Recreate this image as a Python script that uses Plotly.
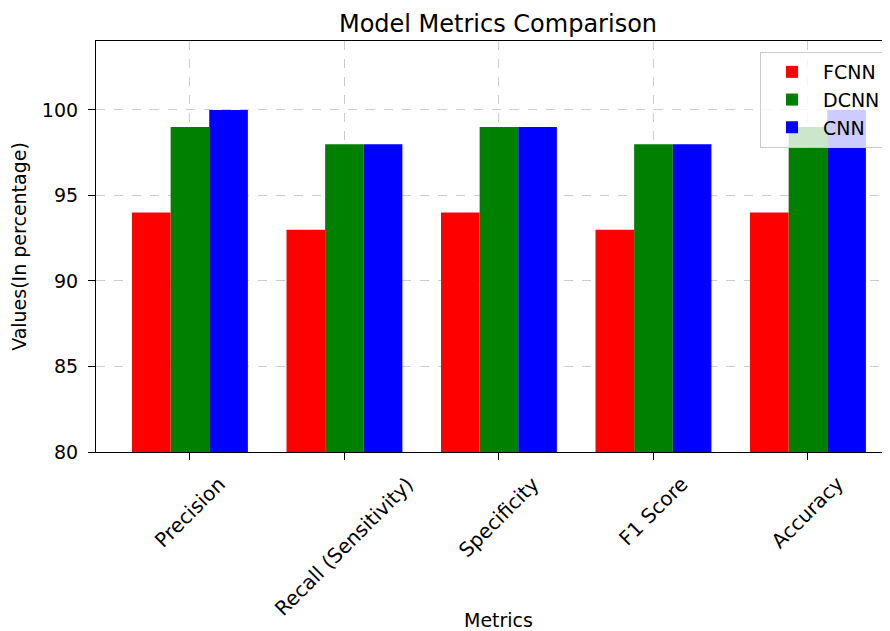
import plotly.graph_objects as go

categories = ["Precision", "Recall (Sensitivity)", "Specificity", "F1 Score", "Accuracy"]
fcnn = [94, 93, 94, 93, 94]
dcnn = [99, 98, 99, 98, 99]
cnn = [100, 98, 99, 98, 100]
series_names = ["FCNN", "DCNN", "CNN"]
series_colors = ["#ff0000", "#008000", "#0000ff"]
y_ticks = [80, 85, 90, 95, 100]

FONT = "DejaVu Sans"
OFF = 8  # page body margin offset
W, H = 890 - OFF, 631 - OFF

fig = go.Figure()
for name, vals, col in zip(series_names, [fcnn, dcnn, cnn], series_colors):
    fig.add_trace(go.Bar(x=categories, y=vals, name=name, marker_color=col,
                         marker_line_width=0))

fig.update_layout(
    width=W, height=H,
    margin=dict(l=96 - OFF, r=0, t=41 - OFF, b=631 - 452),
    paper_bgcolor="white", plot_bgcolor="white",
    barmode="group", bargap=0.25, bargroupgap=0,
    font=dict(family=FONT, size=19, color="black"),
    title=dict(text="Model Metrics Comparison", font=dict(size=24, family=FONT, color="black"),
               x=(498 - OFF) / W, xanchor="center", xref="container",
               y=1 - (24 - OFF) / H, yanchor="middle", yref="container"),
    legend=dict(x=(760 - 96) / 794, xanchor="left", y=1 - 11 / 411, yanchor="top",
                bgcolor="rgba(255,255,255,0.8)", bordercolor="#cccccc", borderwidth=1,
                font=dict(size=19, family=FONT, color="black"), itemwidth=52,
                entrywidth=140),
    showlegend=True,
)

fig.update_xaxes(
    range=[-0.608, 4.531], showline=True, linecolor="black", linewidth=1.2, mirror=True,
    ticks="outside", ticklen=7, tickcolor="black", showticklabels=False,
    showgrid=True, gridcolor="#cccccc", griddash="dash", gridwidth=1,
    zeroline=False,
)
fig.update_yaxes(
    range=[80, 104.03], tickvals=y_ticks, showline=True, linecolor="black", linewidth=1.2,
    mirror=False, ticks="outside", ticklen=7, tickcolor="black",
    tickfont=dict(size=19, family=FONT, color="black"), ticklabelstandoff=6,
    showgrid=True, gridcolor="#cccccc", griddash="dash", gridwidth=1, zeroline=False,
    title=dict(text="Values(In percentage)", font=dict(size=19, family=FONT, color="black"),
               standoff=10),
)

annotations = []
for c in categories:
    annotations.append(dict(x=c, xref="x", y=0, yref="paper", yshift=-17,
                            text=c, showarrow=False, textangle=-45,
                            xanchor="center", yanchor="top",
                            font=dict(size=20, family=FONT, color="black")))
annotations.append(dict(x=categories[2], xref="x", y=-(620 - 452) / 411, yref="paper",
                        text="Metrics", showarrow=False, xanchor="center", yanchor="middle",
                        font=dict(size=19, family=FONT, color="black")))
fig.update_layout(annotations=annotations)

fig.write_html("out.html")
